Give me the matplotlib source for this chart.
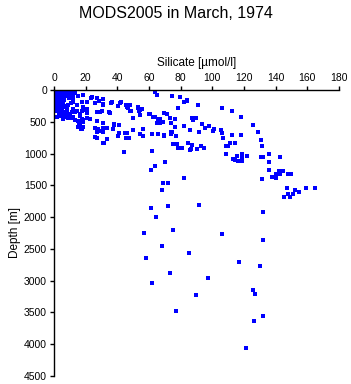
import numpy as np
import matplotlib
matplotlib.use("Agg")
import matplotlib.pyplot as plt

plt.rcParams['font.family'] = ['Liberation Sans', 'DejaVu Sans']

title = "MODS2005 in March, 1974"
xlabel = "Silicate [\u00b5mol/l]"
ylabel = "Depth [m]"
xticks = [0, 20, 40, 60, 80, 100, 120, 140, 160, 180]
yticks = [0, 500, 1000, 1500, 2000, 2500, 3000, 3500, 4000, 4500]

# surface cluster
silicate_top = [1, 2, 3, 1.5, 2.5, 4, 5, 3, 6, 2, 1, 4, 7, 8, 5, 3, 2, 6, 9, 10,
                4, 3, 2, 5, 7, 1.5, 3.5, 6, 8, 11, 12, 9, 2, 4, 5, 3, 6, 7, 2, 8,
                1, 2.5, 4, 5.5, 7, 8.5, 10, 11.5, 13, 1, 3, 5, 6.5, 9, 12, 1.5, 3, 4.5,
                6, 1, 2.5, 4, 5.5, 1.5, 3, 4.5, 2, 3.5, 5, 1, 2.5, 4, 6, 3, 7.5, 9.5]
depth_top = [0, 10, 20, 30, 50, 40, 25, 60, 75, 80, 100, 90, 50, 30, 120, 140, 150, 160, 100, 70,
             180, 200, 220, 200, 250, 250, 280, 260, 300, 200, 150, 240, 330, 350, 320, 380, 400, 420, 430, 360,
             5, 5, 5, 10, 15, 20, 15, 30, 45, 60, 70, 80, 110, 40, 90, 120, 110, 130,
             140, 170, 160, 175, 190, 210, 230, 235, 270, 290, 275, 300, 310, 300, 340, 410, 80, 130]

# upper ocean, 0-1000 m
silicate_upper = [11.8, 15.3, 18.3, 23.8, 27.0, 30.9, 25.9, 30.9, 36.0, 41.7, 40.6, 45.9, 48.0, 53.1,
                  54.3, 48.0, 54.3, 60.6, 63.8, 65.7, 69.5, 71.2, 73.3, 76.2, 78.3, 83.8, 87.3, 89.5,
                  90.9, 63.8, 64.9, 74.3, 79.6, 82.3, 64.9, 66.9, 68.8, 73.7, 76.4, 82.1, 85.9, 91.4,
                  69.5, 73.9, 77.1, 75.3, 77.5, 78.1, 80.7, 84.8, 86.3, 90.1, 62.1,
                  25.9, 27.0, 29.1, 31.1, 33.3, 31.1, 37.9, 41.2, 41.1, 40.2, 44.8, 45.3, 47.6, 50.1,
                  56.4, 54.3, 25.9, 31.1, 33.3, 44.2, 50.1, 35.4, 29.1,
                  5.9, 4.9, 12.2, 13.3, 16.4, 18.5, 16.0, 18.1, 20.7, 22.7, 17.1, 15.3, 18.5, 9.7,
                  11.2, 13.3, 18.1, 20.7, 14.3, 18.5, 20.7, 17.5, 12.2,
                  84.2, 106.3, 112.2, 118.1, 125.9, 129.0, 87.6, 93.3, 95.4, 98.1, 101.2, 100.2, 105.3,
                  106.3, 112.2, 118.1, 106.9, 111.2, 114.3, 130.7, 131.2, 108.4, 110.1, 87.3, 93.0, 94.9,
                  36.4, 42.3, 45.3, 46.5, 48.4, 53.2, 55.4, 53.9, 60.2, 62.3, 66.9, 38.1, 37.5, 46.3,
                  56.0, 61.7, 65.9, 69.7, 74.3, 73.7, 85.9,
                  23.4, 28.6, 31.1, 30.1, 34.9, 27.0, 17.5, 18.3, 20.7, 12.2, 14.3, 10.1, 9.0, 11.2,
                  16.4, 17.5, 20.7, 15.3, 18.5, 16.4, 27.0, 25.9, 28.0, 29.1, 31.1, 27.0, 31.6, 17.5, 6.9]
depth_upper = [79, 95, 79, 115, 126, 142, 205, 236, 200, 200, 252, 268, 236, 263,
               315, 331, 394, 378, 421, 457, 362, 378, 441, 457, 284, 169, 441, 441,
               236, 27, 79, 95, 115, 194, 515, 520, 500, 515, 578, 563, 630, 657,
               709, 657, 725, 851, 851, 909, 919, 840, 930, 935, 961,
               604, 667, 641, 657, 604, 515, 541, 552, 682, 725, 673, 752, 761, 630,
               619, 698, 745, 831, 777, 972, 446, 358, 342,
               462, 394, 421, 473, 410, 473, 525, 500, 446, 462, 619, 578, 578, 421,
               342, 342, 315, 367, 236, 263, 184, 184, 184,
               158, 288, 331, 430, 552, 657, 473, 541, 594, 567, 619, 641, 630,
               673, 704, 709, 761, 831, 840, 788, 883, 883, 883, 872, 878, 919,
               189, 189, 241, 288, 331, 279, 304, 331, 383, 421, 462, 556, 610, 673,
               725, 698, 698, 725, 657, 698, 946,
               121, 173, 225, 331, 347, 347, 331, 304, 295, 304, 331, 383, 437, 437,
               383, 462, 437, 488, 488, 567, 488, 594, 610, 646, 594, 752, 830, 620, 357]

# 1000-1700 m
silicate_mid = [70.3, 63.8, 61.3, 82.3, 69.0, 72.2, 68.4,
                108.4, 115.4, 118.9, 118.9, 122.1, 113.2, 114.3, 116.4, 118.6, 130.7, 132.2, 136.0,
                142.9, 136.0, 136.0, 140.2, 142.3, 144.8, 142.7, 148.0, 149.5, 137.9, 140.2, 131.2,
                147.0, 152.2, 154.7, 159.2, 165.0, 148.0, 151.1, 149.1, 145.3]
depth_mid = [1139, 1198, 1261, 1382, 1470, 1470, 1576,
             1013, 1040, 1009, 1061, 1045, 1083, 1103, 1119, 1119, 1051, 1051, 1013,
             1061, 1130, 1266, 1319, 1281, 1281, 1329, 1329, 1324, 1366, 1392, 1407,
             1540, 1581, 1603, 1549, 1549, 1644, 1644, 1682, 1691]

# deep water
silicate_deep = [61.3, 72.2, 91.8, 64.2, 57.0, 75.3, 68.4, 85.3, 58.1, 73.3, 62.1, 89.9, 77.2,
                 132.2, 106.3, 132.2, 117.0, 130.1, 97.1, 125.9, 127.1, 132.2, 126.3, 121.1]
depth_deep = [1849, 1828, 1817, 2006, 2243, 2206, 2448, 2558, 2637, 2873, 3037, 3226, 3472,
              1927, 2265, 2353, 2700, 2774, 2952, 3141, 3204, 3551, 3630, 4055]

silicate = np.array(silicate_top + silicate_upper + silicate_mid + silicate_deep)
depth = np.array(depth_top + depth_upper + depth_mid + depth_deep)

fig = plt.figure(figsize=(3.51, 3.84), dpi=100)
ax = fig.add_axes([54/351, 1 - 376/384, 285/351, 286/384])

ax.scatter(silicate, depth, s=6, marker='s', color='#0000ff', linewidths=0)

ax.set_xlim(0, 180)
ax.set_ylim(4500, 0)
ax.set_xticks(xticks)
ax.set_yticks(yticks)
ax.xaxis.tick_top()
ax.xaxis.set_label_position('top')
ax.spines['right'].set_visible(False)
ax.spines['bottom'].set_visible(False)
for sp in ['top', 'left']:
    ax.spines[sp].set_linewidth(1.0)
ax.tick_params(direction='out', length=3, width=1.0, labelsize=7.5, pad=2)
ax.set_xlabel(xlabel, fontsize=8.5, labelpad=5)
ax.set_ylabel(ylabel, fontsize=8.5, labelpad=2)

fig.text(0.5, 1 - 13/384, title, ha='center', va='center', fontsize=11.5)

fig.savefig("out.png", dpi=100)
